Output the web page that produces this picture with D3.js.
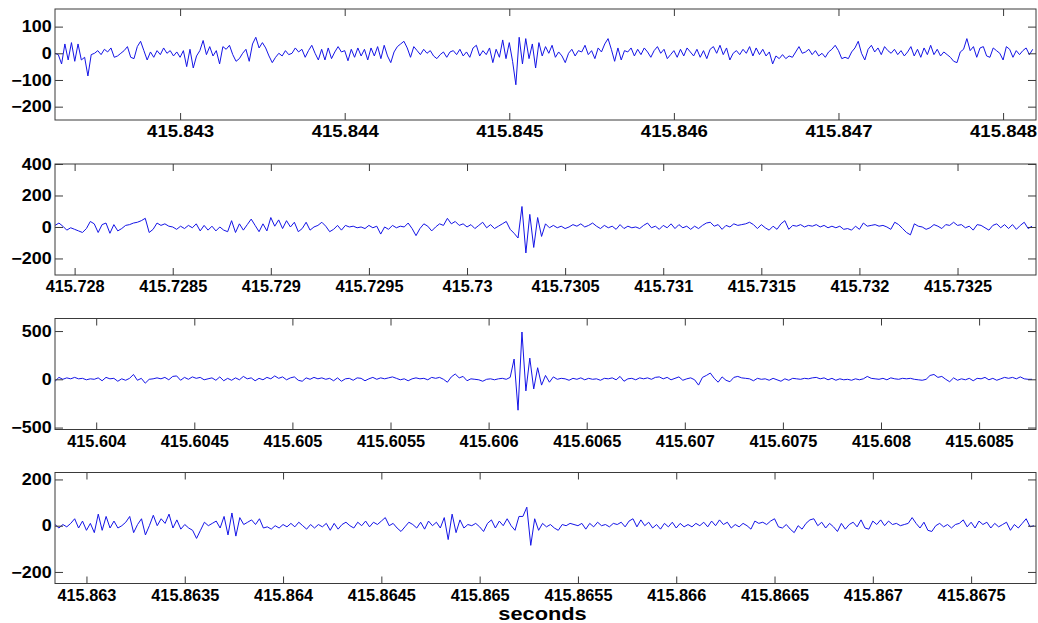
<!DOCTYPE html>
<html>
<head>
<meta charset="utf-8">
<script src="https://cdn.jsdelivr.net/npm/d3@7"></script>
<style>
  html, body { margin: 0; padding: 0; background: #fff; }
  svg { display: block; }
</style>
</head>
<body>
<svg id="chart" width="1038" height="623"></svg>
<script>
// Sampling interval of every trace, in seconds
const sampleStep = 0.00002;

// ---- Trace 1 ----
const trace1Window = [415.84224, 415.8482];
const trace1YRange = [-250, 166];
const trace1XTicks = [415.843, 415.844, 415.845, 415.846, 415.847, 415.848];
const trace1YTicks = [-200, -100, 0, 100];
const trace1 = [
  0,-5,-40,35,-25,40,-30,35,-25,-15,
  -85,-5,0,10,-5,15,5,20,-15,-10,
  0,10,25,-15,-20,25,45,10,-25,5,
  -15,10,-5,20,0,10,-10,5,-15,10,
  -50,15,-55,-10,10,48,-5,25,-10,10,
  -40,25,15,30,-5,-30,-20,0,15,-30,
  35,60,20,40,20,-10,-35,-15,0,-10,
  10,-5,0,20,5,15,-15,10,30,0,
  -25,15,-25,20,-20,5,25,5,10,-28,
  15,-15,20,-10,15,-25,20,-10,25,-20,
  30,-10,-35,5,25,35,45,20,-15,25,
  10,-5,15,0,10,-10,-20,-5,5,-15,
  5,10,-5,15,-10,5,-15,20,30,-10,
  10,-5,20,-35,15,-15,50,-20,40,-30,
  -118,60,-40,55,-20,35,-55,40,-10,25,
  0,30,-15,5,-10,-35,0,15,-10,10,
  5,30,-5,10,-20,20,5,35,55,15,
  -30,20,-25,10,5,20,-10,15,-5,20,
  5,-15,10,25,0,15,-20,-5,10,-15,
  15,-10,20,5,-10,15,-15,10,-20,15,
  25,0,30,-5,20,-25,0,10,-5,15,
  0,25,-10,20,-5,15,-10,5,-40,-10,
  -20,-5,-20,-10,-15,5,25,0,5,15,
  -5,10,-10,0,-15,5,15,30,10,-20,
  -15,-20,5,20,45,0,-25,15,30,5,
  20,-5,25,10,0,15,-5,10,-10,5,
  25,-10,15,-15,20,-5,30,-5,15,-10,
  5,-5,-15,-30,-35,5,15,55,10,25,
  -15,20,25,-10,-15,20,10,0,-25,25,
  15,-15,10,-5,10,20,-5,15
];

// ---- Trace 2 ----
const trace2Window = [415.7279, 415.7329];
const trace2YRange = [-305, 400];
const trace2XTicks = [415.728, 415.7285, 415.729, 415.7295, 415.73, 415.7305, 415.731, 415.7315, 415.732, 415.7325];
const trace2YTicks = [-200, 0, 200, 400];
const trace2 = [
  10,25,5,-20,-5,-15,-25,-35,-10,35,
  20,-35,15,25,-40,15,-25,-10,10,15,
  25,30,40,55,-35,-15,25,10,20,5,
  0,-15,5,-10,10,-5,20,-25,10,-20,
  5,-25,0,-20,-30,40,-35,20,-20,15,
  50,10,-30,20,-25,60,5,45,-10,40,
  0,30,-30,-10,30,-20,0,10,30,5,
  -30,-15,10,-20,10,0,5,-5,0,-10,
  10,-5,5,-45,0,-15,10,-5,5,0,
  25,-10,-55,-10,20,5,-25,0,20,10,
  55,20,35,10,20,0,15,-10,10,30,
  -5,15,-10,5,20,35,-15,-40,-70,130,
  -165,80,-130,60,-60,20,-5,10,-5,5,
  -10,0,15,5,20,0,10,25,5,-10,
  10,-5,5,-15,15,-10,5,-5,0,-10,
  10,25,-5,5,-15,10,-5,20,-10,15,
  -5,5,-15,5,-10,10,25,30,5,15,
  -15,10,0,20,10,15,20,30,15,-10,
  15,-5,-20,5,-15,20,40,-15,10,5,
  15,0,10,5,15,0,10,-5,5,-5,
  5,-15,-10,-20,5,-15,25,5,10,15,
  5,10,0,-15,30,15,-10,-35,-50,20,
  5,0,-15,-5,15,5,-10,15,10,30,
  10,15,-5,5,-20,15,10,-5,-20,10,
  20,-5,15,-10,15,-15,10,30,-10,5
];

// ---- Trace 3 ----
const trace3Window = [415.60379, 415.60879];
const trace3YRange = [-520, 630];
const trace3XTicks = [415.604, 415.6045, 415.605, 415.6055, 415.606, 415.6065, 415.607, 415.6075, 415.608, 415.6085];
const trace3YTicks = [-500, 0, 500];
const trace3 = [
  -20,20,0,15,5,20,5,10,-5,5,
  0,15,-15,20,5,10,-20,5,-10,10,
  50,-10,10,-40,0,5,15,5,20,-5,
  30,35,-10,20,0,25,10,20,-5,5,
  15,-10,25,-15,10,-10,15,-5,30,5,
  15,-15,10,-5,20,5,35,10,25,-5,
  15,25,-10,-20,15,0,20,5,15,0,
  10,-15,15,-20,5,10,-10,15,10,-15,
  5,20,0,15,5,15,25,10,-5,5,
  -15,5,15,5,10,-5,20,10,20,0,
  -30,25,55,15,30,-15,5,0,-5,-20,
  0,5,-5,5,10,0,20,210,-320,490,
  -120,220,-100,120,-60,40,-30,25,0,10,
  5,-10,10,0,15,-5,10,0,5,-10,
  10,5,15,-5,30,-20,5,10,-5,15,
  5,15,0,20,25,5,20,-5,10,25,
  -10,5,15,-5,-60,20,40,65,10,-30,
  25,-10,-25,20,30,15,10,5,-15,10,
  0,5,-10,10,-5,-20,5,-10,10,5,
  0,10,5,15,20,5,15,-5,10,-10,
  5,-5,0,-10,5,-5,5,30,10,5,
  0,10,-5,15,5,0,10,5,10,0,
  -5,-10,0,40,50,20,30,0,-25,15,
  -10,5,-5,10,-15,10,5,20,-5,10,
  -10,5,20,10,20,5,25,5,0,0
];

// ---- Trace 4 ----
const trace4Window = [415.86284, 415.86783];
const trace4YRange = [-250, 230];
const trace4XTicks = [415.863, 415.8635, 415.864, 415.8645, 415.865, 415.8655, 415.866, 415.8665, 415.867, 415.8675];
const trace4YTicks = [-200, 0, 200];
const trace4 = [
  5,-10,5,-5,10,30,-10,20,-20,10,
  -30,50,-20,40,-10,20,-10,0,15,40,
  -30,5,30,-40,0,45,0,30,10,50,
  -10,25,-15,5,-10,-20,-55,-20,15,0,
  10,20,-10,40,-40,55,-45,35,5,15,
  25,5,30,-10,-5,-15,0,-10,5,-5,
  10,-5,15,0,-15,5,-10,5,-5,10,
  -20,10,-15,5,15,0,-10,15,0,20,
  -5,15,5,20,35,0,10,-10,-25,-5,
  15,5,-10,15,-15,20,0,15,-10,35,
  -60,50,-30,25,-10,5,0,10,-5,-25,
  10,25,-10,20,0,30,0,-20,40,40,
  80,-85,30,-20,10,-5,5,-10,-20,5,
  0,10,5,0,10,-15,10,-5,15,0,
  5,-5,10,5,15,-5,20,30,-5,25,
  0,15,-10,5,-15,10,-5,15,-10,10,
  -5,5,-5,10,0,15,-5,20,0,25,
  5,15,-10,5,-5,10,0,-15,20,10,
  15,5,20,30,-5,-10,5,-15,-30,0,
  -15,10,25,30,0,15,-10,10,-5,-25,
  10,-15,5,15,-5,25,-10,-15,20,5,
  25,0,20,5,10,0,5,10,35,10,
  -10,15,-20,-25,0,10,-5,5,-10,5,
  10,25,-5,15,-10,20,5,15,-10,10,
  -5,5,15,-20,5,-10,10,30,-5,0
];

const xAxisTitle = "seconds";

// Panel descriptions assembled from the arrays above
const panels = [
  { values: trace1, window: trace1Window, yRange: trace1YRange, xTicks: trace1XTicks, yTicks: trace1YTicks, fmt: d3.format(".3~f"), xStretch: 1.16 },
  { values: trace2, window: trace2Window, yRange: trace2YRange, xTicks: trace2XTicks, yTicks: trace2YTicks, fmt: d3.format(".4~f"), xStretch: 1.02 },
  { values: trace3, window: trace3Window, yRange: trace3YRange, xTicks: trace3XTicks, yTicks: trace3YTicks, fmt: d3.format(".4~f"), xStretch: 1.02 },
  { values: trace4, window: trace4Window, yRange: trace4YRange, xTicks: trace4XTicks, yTicks: trace4YTicks, fmt: d3.format(".4~f"), xStretch: 1.02 }
];

// Layout
const plotLeft = 55, plotRight = 1036;
const plotHeight = 111;
const panelTops = [9, 164, 318.5, 472.5];
const frameColor = "#3a3a3a";
const traceColor = "#1414e6";
const labelFont = "'Liberation Sans', Arial, Helvetica, sans-serif";
const labelSize = "16px";
const yStretch = 1.12;

const svg = d3.select("#chart");

panels.forEach((p, k) => {
  const top = panelTops[k];
  const bottom = top + plotHeight;
  const x = d3.scaleLinear().domain(p.window).range([plotLeft, plotRight]);
  const y = d3.scaleLinear().domain(p.yRange).range([bottom, top]);

  const g = svg.append("g");

  const clipId = "clip" + k;
  g.append("clipPath").attr("id", clipId)
    .append("rect")
    .attr("x", plotLeft).attr("y", top)
    .attr("width", plotRight - plotLeft).attr("height", plotHeight);

  // signal trace
  const line = d3.line()
    .x((d, i) => x(p.window[0] + i * sampleStep))
    .y(d => y(d));
  g.append("path")
    .datum(p.values)
    .attr("clip-path", `url(#${clipId})`)
    .attr("d", line)
    .attr("fill", "none")
    .attr("stroke", traceColor)
    .attr("stroke-width", 1)
    .attr("stroke-linejoin", "round");

  // bottom axis with inward ticks and labels
  const ax = g.append("g")
    .attr("transform", `translate(0,${bottom})`)
    .call(d3.axisBottom(x).tickValues(p.xTicks).tickSize(-7).tickPadding(6).tickFormat(p.fmt));
  // top axis ticks
  const axTop = g.append("g")
    .attr("transform", `translate(0,${top})`)
    .call(d3.axisTop(x).tickValues(p.xTicks).tickSize(-7).tickFormat(""));
  // left axis
  const ay = g.append("g")
    .attr("transform", `translate(${plotLeft},0)`)
    .call(d3.axisLeft(y).tickValues(p.yTicks).tickSize(-8).tickPadding(3).tickFormat(d3.format("d")));
  // right axis ticks
  const ayR = g.append("g")
    .attr("transform", `translate(${plotRight},0)`)
    .call(d3.axisRight(y).tickValues(p.yTicks).tickSize(-8).tickFormat(""));

  [ax, axTop, ay, ayR].forEach(a => {
    a.select(".domain").remove();
    a.selectAll(".tick line").attr("stroke", frameColor).attr("stroke-width", 1);
  });

  ax.selectAll(".tick text")
    .attr("fill", "#000")
    .style("font-family", labelFont)
    .style("font-weight", "bold")
    .style("font-size", labelSize)
    .attr("transform", `scale(${p.xStretch},1)`);

  ay.selectAll(".tick text")
    .attr("fill", "#000")
    .style("font-family", labelFont)
    .style("font-weight", "bold")
    .style("font-size", labelSize)
    .attr("transform", `scale(${yStretch},1)`);

  // frame
  g.append("rect")
    .attr("x", plotLeft).attr("y", top)
    .attr("width", plotRight - plotLeft).attr("height", plotHeight)
    .attr("fill", "none")
    .attr("stroke", frameColor)
    .attr("stroke-width", 1);
});

// x-axis title
svg.append("text")
  .attr("transform", `translate(${(plotLeft + plotRight) / 2 - 3},620) scale(1.18,1)`)
  .attr("text-anchor", "middle")
  .style("font-family", labelFont)
  .style("font-weight", "bold")
  .style("font-size", "18.5px")
  .attr("fill", "#000")
  .text(xAxisTitle);
</script>
</body>
</html>
